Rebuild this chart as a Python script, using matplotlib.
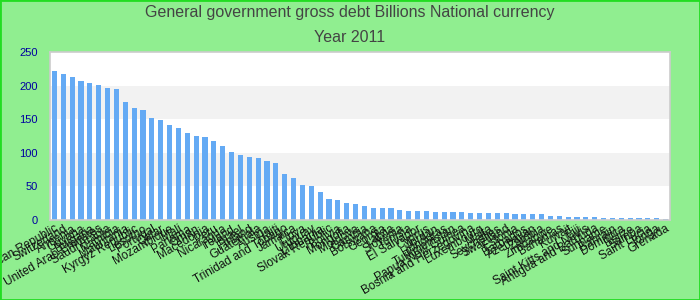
import matplotlib
matplotlib.use("Agg")
import matplotlib.pyplot as plt
import numpy as np

countries = [
    "Central African Republic", "Switzerland", "Armenia", "Guyana", "Bulgaria",
    "United Arab Emirates", "Saudi Arabia", "Namibia", "Mauritania", "Kyrgyz Republic",
    "Lesotho", "Portugal", "Qatar", "Mozambique", "Mali",
    "Panama", "Oman", "Macedonia", "Peru", "Nicaragua",
    "Ireland", "Israel", "Finland", "Guatemala", "Austria",
    "Haiti", "Trinidad and Tobago", "Jamaica", "Libya", "Uruguay",
    "Lithuania", "Slovak Republic", "Bolivia", "Mongolia", "Moldova",
    "Gambia", "Botswana", "Georgia", "Latvia", "Slovenia",
    "Tunisia", "El Salvador", "Cyprus", "Jordan", "Honduras",
    "Turkmenistan", "Papua New Guinea", "Bosnia and Herzegovina", "Luxembourg", "Malta",
    "Seychelles", "Swaziland", "Estonia", "Barbados", "Azerbaijan",
    "Zambia", "Zimbabwe", "Bahamas", "Kuwait", "Fiji",
    "Saint Kitts and Nevis", "Antigua and Barbuda", "Suriname", "Bahrain", "Dominica",
    "Belize", "Samoa", "Saint Lucia", "Tonga", "Grenada",
]
values = [
    222, 218, 213, 207, 204, 201, 197, 195, 176, 166,
    164, 152, 149, 142, 137, 130, 125, 124, 118, 110,
    101, 97, 94, 93, 88, 85, 69, 63, 52, 51,
    42, 31, 30, 25, 24, 21, 18, 18, 18, 15,
    13.4, 13.4, 13.4, 12, 12, 12, 12, 10.4, 10.4, 10.4,
    10.4, 10.4, 9, 9, 9, 9, 6, 6, 4.5, 4.5,
    4.5, 4.5, 3, 3, 3, 3, 3, 3, 3, 1.5,
]
yticks = [0, 50, 100, 150, 200, 250]
title_lines = ["General government gross debt Billions National currency", "Year 2011"]

bg = "#90ee90"
fig = plt.figure(figsize=(7, 3), dpi=100, facecolor=bg)
ax = fig.add_axes([50/700, 80/300, 620/700, 168/300])
ax.set_facecolor("white")

# alternating bands
for i in range(len(yticks) - 1):
    if i % 2 == 1:
        ax.axhspan(yticks[i], yticks[i + 1], color="#f2f2f2", zorder=0, lw=0)

x = np.arange(len(countries))
ax.bar(x, values, width=0.58, color="#64aaf4", zorder=2)

ax.set_xlim(-0.5, len(countries) - 0.5)
ax.set_ylim(0, 250)
ax.set_yticks(yticks)
ax.set_yticklabels([str(v) for v in yticks], color="#0000a0", fontsize=8,
                   family="Liberation Sans")
ax.tick_params(axis="y", length=0, pad=9)
ax.tick_params(axis="x", length=0, pad=2)
ax.set_xticks(x)
ax.set_xticklabels(countries, rotation=30, ha="right", va="top", rotation_mode="anchor",
                   fontsize=8.5, family="Liberation Sans", color="#111111")
for s in ax.spines.values():
    s.set_color("#cccccc")
    s.set_linewidth(1.2)

fig.text(0.5, 1 - 13/300, title_lines[0], ha="center", va="center", fontsize=11.5,
         color="#444444", family="Liberation Sans")
fig.text(0.5, 1 - 37/300, title_lines[1], ha="center", va="center", fontsize=11.5,
         color="#444444", family="Liberation Sans")

# green border
border = plt.Rectangle((0, 0), 1, 1, transform=fig.transFigure, fill=False,
                       edgecolor="#22dd22", lw=2, zorder=10)
fig.patches.append(border)

fig.savefig("out.png", dpi=100, facecolor=bg)
